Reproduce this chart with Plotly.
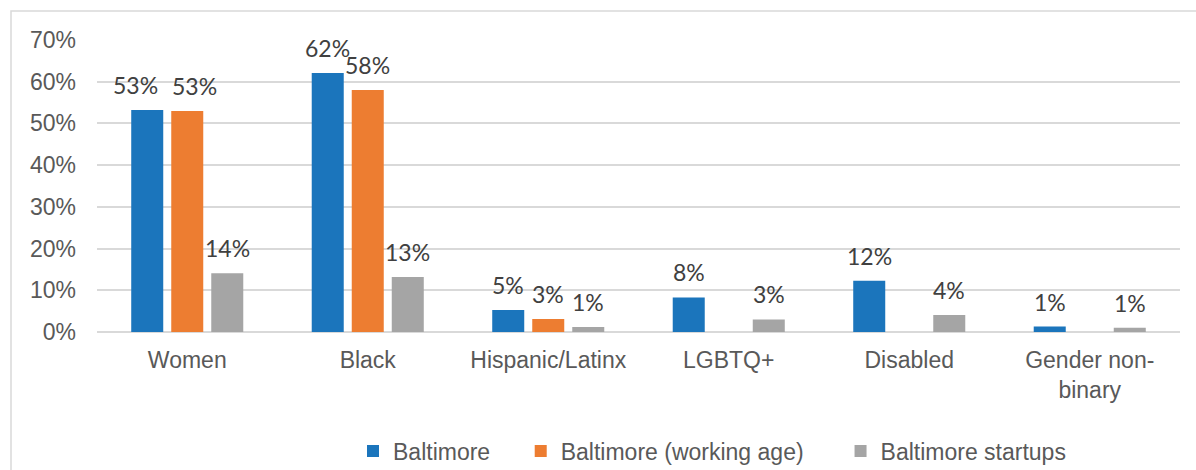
import plotly.graph_objects as go

categories = ["Women", "Black", "Hispanic/Latinx", "LGBTQ+", "Disabled", "Gender non-<br>binary"]
series_names = ["Baltimore", "Baltimore (working age)", "Baltimore startups"]
baltimore = [0.532, 0.621, 0.053, 0.083, 0.123, 0.013]
working_age = [0.530, 0.580, 0.031, None, None, None]
startups = [0.141, 0.132, 0.012, 0.030, 0.041, 0.010]
labels_baltimore = ["53%", "62%", "5%", "8%", "12%", "1%"]
labels_working_age = ["53%", "58%", "3%", None, None, None]
labels_startups = ["14%", "13%", "1%", "3%", "4%", "1%"]
y_ticks = [0, 0.1, 0.2, 0.3, 0.4, 0.5, 0.6, 0.7]
y_tick_text = ["0%", "10%", "20%", "30%", "40%", "50%", "60%", "70%"]

colors = ["#1B75BC", "#ED7D31", "#A5A5A5"]

W, H = 1196, 470
ML, MR, MT, MB = 97, 16, 40, 138
BARGAP = 0.335
BARGROUPGAP = 0.2
# small horizontal nudges (px) for labels that would collide: (series, category) -> shift
LABEL_NUDGE = {(0, 0): -12, (1, 0): 7}
LEGEND_PAD = ["\u00a0" * 4, "\u00a0" * 5, ""]

fig = go.Figure()
all_vals = [baltimore, working_age, startups]
all_labels = [labels_baltimore, labels_working_age, labels_startups]
for k, (name, vals, col) in enumerate(zip(series_names, all_vals, colors)):
    fig.add_trace(go.Bar(x=categories, y=vals, name=name + LEGEND_PAD[k],
                         marker_color=col, marker_line_width=0))

# data labels positioned relative to each bar via the axes
plot_w = W - ML - MR
plot_h = H - MT - MB
slot = plot_w / len(categories) * (1 - BARGAP) / 3
annotations = []
for i, (vals, labs) in enumerate(zip(all_vals, all_labels)):
    for j, (c, v, t) in enumerate(zip(categories, vals, labs)):
        if v is None:
            continue
        annotations.append(dict(x=c, y=v, xref="x", yref="y", text=t, showarrow=False,
                                xshift=(i - 1) * slot + LABEL_NUDGE.get((i, j), 0),
                                yanchor="bottom", yshift=9,
                                font=dict(family="Lato", size=23, color="#404040")))

fig.update_layout(
    width=W, height=H,
    margin=dict(l=ML, r=MR, t=MT, b=MB, autoexpand=False),
    barmode="group", bargap=BARGAP, bargroupgap=BARGROUPGAP,
    plot_bgcolor="white", paper_bgcolor="white",
    font=dict(family="Liberation Sans, Arial", size=23, color="#595959"),
    annotations=annotations,
    legend=dict(orientation="h", x=(353 - ML) / plot_w, xanchor="left",
                y=(H - MB - 451) / plot_h, yanchor="middle",
                font=dict(family="Liberation Sans, Arial", size=23, color="#595959"),
                itemwidth=30, traceorder="normal"),
    shapes=[dict(type="rect", xref="paper", yref="paper",
                 x0=(11 - ML) / plot_w, x1=2.0,
                 y0=-2.0, y1=(H - MB - 11) / plot_h,
                 line=dict(color="#D9D9D9", width=1.5), layer="below")],
)
fig.update_yaxes(range=[0, 0.7], tickvals=y_ticks, ticktext=y_tick_text,
                 showgrid=True, gridcolor="#D9D9D9", gridwidth=1.5,
                 zeroline=True, zerolinecolor="#D9D9D9", zerolinewidth=1.5,
                 showline=False, ticks="", ticklabelstandoff=20, automargin=False,
                 tickfont=dict(size=23, color="#595959"))
fig.update_xaxes(showgrid=False, showline=False, ticks="", ticklabelstandoff=12,
                 automargin=False, tickfont=dict(size=23, color="#595959"))

fig.write_html("out.html", config={"displayModeBar": False},
               post_script="document.body.style.margin='0';")
